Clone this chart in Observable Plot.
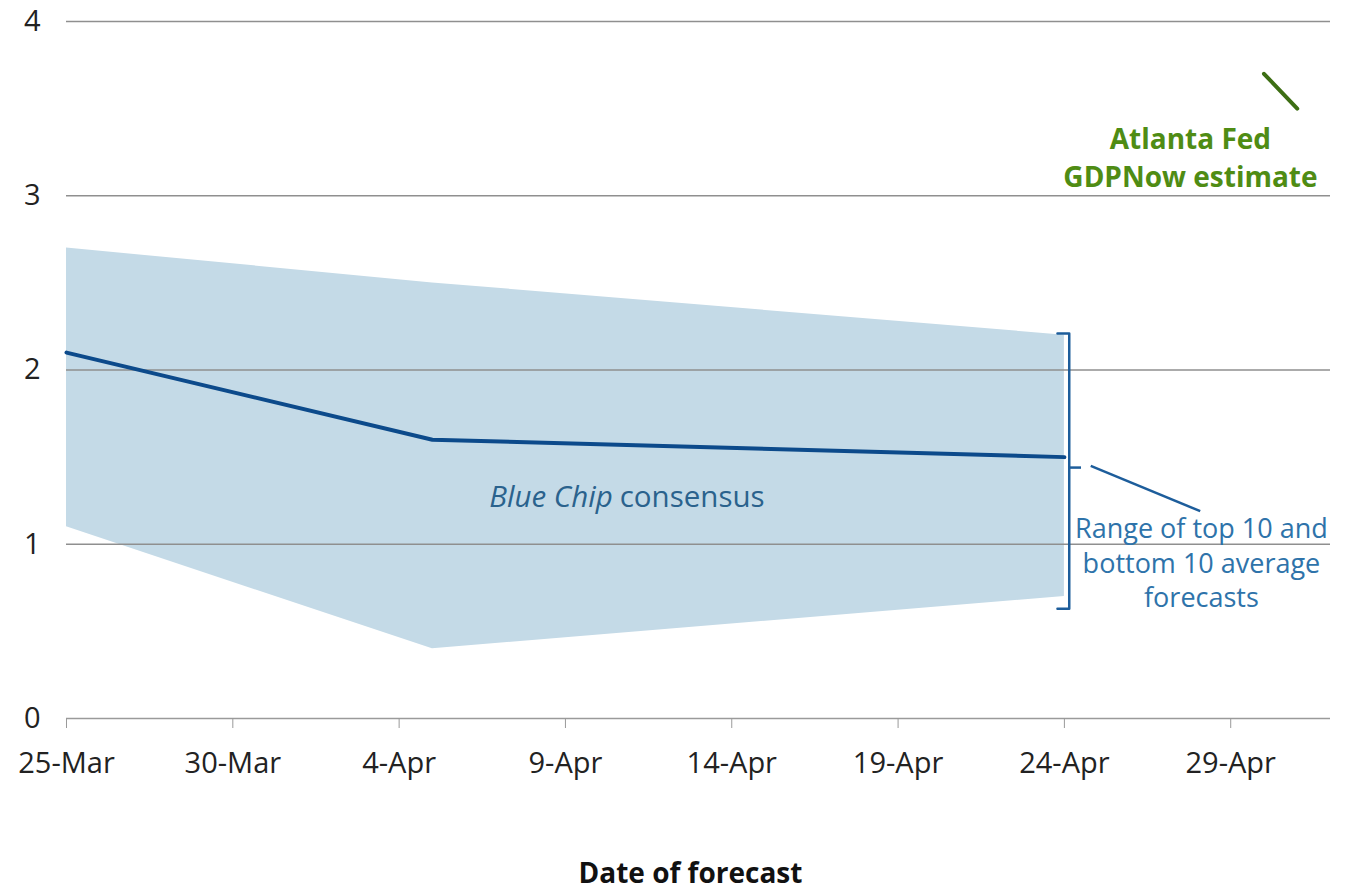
<!DOCTYPE html>
<html><head><meta charset="utf-8">
<script src="https://cdn.jsdelivr.net/npm/d3@7"></script>
<script src="https://cdn.jsdelivr.net/npm/@observablehq/plot@0.6"></script>
<style>body{margin:0;background:#fff;}</style>
</head><body><div id="chart"></div>
<script>
// Data
const forecastDates = ["2017-03-25", "2017-04-05", "2017-04-24"];
const consensus = [2.1, 1.6, 1.5];
const rangeTop = [2.7, 2.5, 2.2];
const rangeBottom = [1.1, 0.4, 0.7];
const gdpNowDates = ["2017-04-30", "2017-05-01"];
const gdpNow = [3.7, 3.5];
const xTickDates = ["2017-03-25", "2017-03-30", "2017-04-04", "2017-04-09", "2017-04-14", "2017-04-19", "2017-04-24", "2017-04-29"];
const yTicks = [0, 1, 2, 3, 4];

const D = s => new Date(s.length > 10 ? s + "Z" : s + "T00:00Z");
const blueChip = forecastDates.map((d, i) => ({date: D(d), mid: consensus[i], lo: rangeBottom[i], hi: rangeTop[i]}));
const gdp = gdpNowDates.map((d, i) => ({date: D(d), v: gdpNow[i]}));

const FONT = "'Open Sans', 'Noto Sans', sans-serif";
const bracketX = D("2017-04-24T03:30");
const bracketSerif = D("2017-04-23T19:00");
const bracket = [
  {x: bracketSerif, y: 2.21}, {x: bracketX, y: 2.21},
  {x: bracketX, y: 0.63}, {x: bracketSerif, y: 0.63}
];

const chart = Plot.plot({
  width: 1360,
  height: 891,
  marginLeft: 66,
  marginRight: 30,
  marginTop: 21,
  marginBottom: 173,
  style: {fontFamily: FONT, fontSize: "29px", color: "#222", background: "#fff"},
  x: {type: "utc", domain: [D("2017-03-25"), D("2017-05-02")]},
  y: {domain: [0, 4]},
  marks: [
    Plot.areaY(blueChip, {x: "date", y1: "lo", y2: "hi", fill: "#c4dae7"}),
    Plot.ruleY([1, 2, 3, 4], {stroke: "#8f8f8f", strokeWidth: 1.5}),
    Plot.ruleY([0], {stroke: "#9a9a9a", strokeWidth: 1.5}),
    Plot.axisY({ticks: yTicks, tickFormat: d3.format("d"), tickSize: 0, tickPadding: 26, label: null, fill: "#222"}),
    Plot.axisX({ticks: xTickDates.map(D), tickFormat: d3.utcFormat("%-d-%b"), tickSize: 10, tickPadding: 24, stroke: "#9a9a9a", label: null, fill: "#222"}),
    Plot.lineY(blueChip, {x: "date", y: "mid", stroke: "#0c4a8b", strokeWidth: 4}),
    Plot.lineY(gdp, {x: "date", y: "v", stroke: "#3d6e14", strokeWidth: 4}),
    Plot.line(bracket, {x: "x", y: "y", stroke: "#1d5d9b", strokeWidth: 2.5, curve: "linear"}),
    Plot.link([0], {x1: [bracketX], x2: [D("2017-04-24T12:00")], y1: [1.44], y2: [1.44], stroke: "#1d5d9b", strokeWidth: 2.5}),
    Plot.link([0], {x1: [D("2017-04-24T19:00")], x2: [D("2017-04-28T02:00")], y1: [1.45], y2: [1.19], stroke: "#1d5d9b", strokeWidth: 2.5}),
    Plot.text(["Blue Chip"], {x: [D("2017-04-10")], y: [1.27], dx: 14, textAnchor: "end", fontStyle: "italic", fill: "#2a628d", fontSize: 29.5}),
    Plot.text(["consensus"], {x: [D("2017-04-10")], y: [1.27], dx: 21, textAnchor: "start", fill: "#2a628d", fontSize: 29.5}),
    Plot.text(["Range of top 10 and\nbottom 10 average\nforecasts"], {x: [D("2017-04-28")], y: [0.9], dx: 4, lineHeight: 1.27, fill: "#2e73aa", fontSize: 27}),
    Plot.text(["Atlanta Fed\nGDPNow estimate"], {x: [D("2017-04-28")], y: [3.23], dx: -7, lineHeight: 1.35, fill: "#4f8c14", fontWeight: "bold", fontSize: 28}),
    Plot.text(["Date of forecast"], {frameAnchor: "bottom", dx: -8, dy: 164, fill: "#111", fontWeight: "bold", fontSize: 28})
  ]
});
document.getElementById("chart").appendChild(chart);
</script>
</body></html>
